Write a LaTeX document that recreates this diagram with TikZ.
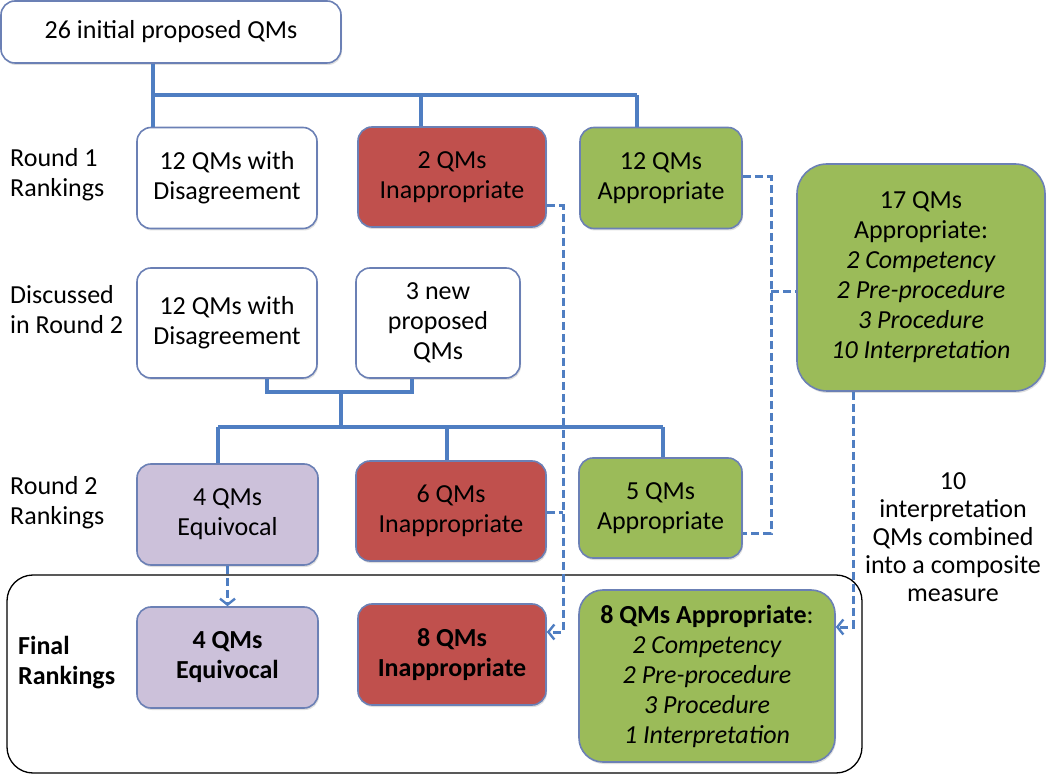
\documentclass[tikz,border=0pt]{standalone}
\usepackage{fontspec}
\setmainfont{Carlito}
\usetikzlibrary{arrows.meta,shadows}
\definecolor{bord}{HTML}{6B80B5}
\definecolor{conn}{HTML}{4F7EC2}
\definecolor{redf}{HTML}{C0504D}
\definecolor{greenf}{HTML}{9BBB59}
\definecolor{purplef}{HTML}{CCC1DA}
\tikzset{
  box/.style={draw=bord, line width=1.6pt, rounded corners=14pt, align=center,
    inner sep=0pt, font=\fontsize{26}{30}\selectfont,
    drop shadow={shadow xshift=1pt, shadow yshift=-2pt, opacity=0.25}},
  wbox/.style={box, fill=white},
  rbox/.style={box, fill=redf},
  gbox/.style={box, fill=greenf},
  pbox/.style={box, fill=purplef},
  lbl/.style={align=left, anchor=west, inner sep=0pt, font=\fontsize{26}{30}\selectfont},
  link/.style={draw=conn, line width=3.2pt},
  dlink/.style={draw=conn, line width=3pt, dash pattern=on 8pt off 4pt},
  arr/.style={-{Straight Barb[length=6pt,width=15pt,line width=2.4pt]}},
}
\begin{document}
\begin{tikzpicture}[x=1pt,y=-1pt]
\useasboundingbox (0,0) rectangle (1050,783);
% frame
\node[draw=black, line width=1.3pt, rounded corners=26pt, minimum width=855pt, minimum height=198pt, inner sep=0pt] (frame) at (434.5,674) {};
% boxes
\node[wbox, minimum width=340pt, minimum height=62pt] (top) at (171,32) {26 initial proposed QMs};
\node[wbox, minimum width=180pt, minimum height=101pt] (d1) at (227,178) {12 QMs with\\Disagreement};
\node[rbox, minimum width=188pt, minimum height=100pt] (i1) at (452,177) {2 QMs\\Inappropriate};
\node[gbox, minimum width=162pt, minimum height=101pt] (a1) at (661,178) {12 QMs\\Appropriate};
\node[gbox, rounded corners=30pt, minimum width=248pt, minimum height=227pt] (big) at (921,277.5) {17 QMs\\Appropriate:\\\textit{2 Competency}\\\textit{2 Pre-procedure}\\\textit{3 Procedure}\\\textit{10 Interpretation}};
\node[wbox, minimum width=180pt, minimum height=110pt] (d2) at (227,323) {12 QMs with\\Disagreement};
\node[wbox, minimum width=164pt, minimum height=110pt] (n2) at (438,323) {3 new\\proposed\\QMs};
\node[pbox, minimum width=181pt, minimum height=101pt] (e2) at (227.5,514.5) {4 QMs\\Equivocal};
\node[rbox, minimum width=190pt, minimum height=100pt] (i2) at (451,511) {6 QMs\\Inappropriate};
\node[gbox, minimum width=163pt, minimum height=100pt] (a2) at (660.5,508) {5 QMs\\Appropriate};
\node[pbox, minimum width=181pt, minimum height=101pt, font=\fontsize{26}{30}\selectfont\bfseries] (e3) at (227.5,657.5) {4 QMs\\Equivocal};
\node[rbox, minimum width=188pt, minimum height=101pt, font=\fontsize{26}{30}\selectfont\bfseries] (i3) at (452,654.5) {8 QMs\\Inappropriate};
\node[gbox, rounded corners=24pt, minimum width=256pt, minimum height=172pt] (a3) at (707,676) {\textbf{8 QMs Appropriate}:\\\textit{2 Competency}\\\textit{2 Pre-procedure}\\\textit{3 Procedure}\\\textit{1 Interpretation}};
% labels
\node[lbl] (l1) at (10,175) {Round 1\\Rankings};
\node[lbl] (l2) at (10,310) {Discussed\\in Round 2};
\node[lbl] (l3) at (10,503) {Round 2\\Rankings};
\node[lbl, font=\fontsize{26}{30}\selectfont\bfseries] (l4) at (18,663) {Final\\Rankings};
\node[align=center, inner sep=0pt, font=\fontsize{26}{28}\selectfont] (note) at (953,537) {10\\interpretation\\QMs combined\\into a composite\\measure};
% coordinates
\coordinate (j1) at (153,95);
\coordinate (j2) at (341,392);
\coordinate (j3) at (341,427);
% solid connectors
\draw[link] (top.south -| j1) -- (d1.north -| j1);
\draw[link] (j1) -- (637,95);
\draw[link] (421,95) -- (i1.north -| 421,0);
\draw[link] (637,95) -- (a1.north -| 637,0);
\draw[link] (d2.south -| 267,0) |- (j2) -| (n2.south -| 412,0);
\draw[link] (j2) -- (j3);
\draw[link] (218,427) -- (663,427);
\draw[link] (218,427) -- (e2.north -| 218,0);
\draw[link] (447,427) -- (i2.north -| 447,0);
\draw[link] (663,427) -- (a2.north -| 663,0);
% dashed connectors
\draw[dlink] (a1.east |- 0,177) -- (771,177) -- (771,533) -- (a2.east |- 0,533);
\draw[dlink] (771,292) -- (big.west |- 0,292);
\draw[dlink, arr] (i1.east |- 0,206) -- (563,206) -- (563,632) -- (i3.east |- 0,632);
\draw[dlink] (i2.east |- 0,512) -- (563,512);
\draw[dlink, arr] (big.south -| 853,0) -- (853,627) -- (a3.east |- 0,627);
\draw[dlink, arr] (e2.south) -- (e3.north);
\end{tikzpicture}
\end{document}
